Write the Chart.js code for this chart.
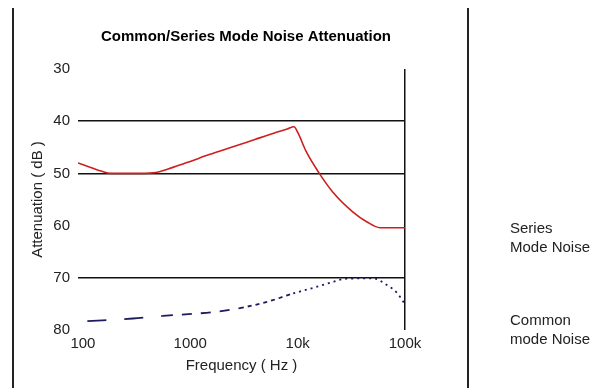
<!DOCTYPE html>
<html>
<head>
<meta charset="utf-8">
<script src="https://cdn.jsdelivr.net/npm/chart.js@4"></script>
<style>
  html, body { margin: 0; padding: 0; background: #fff; }
  #wrap { position: relative; width: 608px; height: 388px; overflow: hidden; }
  #c { position: absolute; left: 0; top: 0; }
  .frame { position: absolute; top: 8px; bottom: 0; width: 0; border-left: 2px solid #222; }
  .note { position: absolute; left: 510px; font: 15px "Liberation Sans", Arial, sans-serif; line-height: 19px; color: #222; }
</style>
</head>
<body>
<div id="wrap">
  <canvas id="c" width="608" height="388"></canvas>
  <div class="frame" style="left:12px"></div>
  <div class="frame" style="left:467px"></div>
  <div class="note" style="top:218px">Series<br>Mode Noise</div>
  <div class="note" style="top:310px">Common<br>mode Noise</div>
</div>
<script>
// ---- data ----
const seriesFreq = [90, 120, 150, 180, 300, 450, 700, 1000, 1500, 2500, 4000, 6000, 8000, 9250, 10100, 12000, 15800, 21300, 32800, 44300, 58600, 75000, 100000];
const seriesDb   = [48.0, 48.9, 49.6, 50.0, 50.0, 49.9, 48.8, 47.7, 46.4, 44.9, 43.5, 42.3, 41.5, 41.05, 42.3, 45.8, 49.9, 53.6, 57.4, 59.3, 60.4, 60.4, 60.4];

const commonFreq = [110, 292, 556, 1060, 1770, 2900, 5200, 9100, 15200, 21300, 27500, 50500, 68000, 84500, 98000];
const commonDb   = [78.3, 77.8, 77.3, 76.9, 76.5, 75.8, 74.6, 73.0, 71.7, 70.8, 70.2, 70.1, 71.4, 72.9, 74.8];

const xTickValues = [100, 1000, 10000, 100000];
const xTickLabels = ['100', '1000', '10k', '100k'];
const yTickValues = [30, 40, 50, 60, 70, 80];
const yGridShown  = [40, 50, 70];
const seriesNames = ['Series Mode Noise', 'Common mode Noise'];

Chart.defaults.font.family = '"Liberation Sans", Arial, sans-serif';
Chart.defaults.color = '#222';

function pts(fx, fy) { return fx.map((f, i) => ({ x: f, y: fy[i] })); }

function commonDash(ctx) {
  const f = ctx.p0.parsed.x;
  if (f < 450) return [19, 18];
  if (f < 2300) return [10, 9];
  if (f < 6000) return [4, 4];
  return [2, 4];
}

new Chart(document.getElementById('c'), {
  type: 'line',
  data: {
    datasets: [
      {
        label: seriesNames[0],
        data: pts(seriesFreq, seriesDb),
        borderColor: '#cc1f1f',
        borderWidth: 1.6,
        pointRadius: 0,
        cubicInterpolationMode: 'monotone',
        fill: false
      },
      {
        label: seriesNames[1],
        data: pts(commonFreq, commonDb),
        borderColor: '#1c1c5e',
        borderWidth: 1.8,
        pointRadius: 0,
        cubicInterpolationMode: 'monotone',
        fill: false,
        segment: { borderDash: commonDash }
      }
    ]
  },
  options: {
    responsive: false,
    animation: false,
    layout: { padding: { left: 0, right: 116, top: 0, bottom: 0 } },
    plugins: {
      legend: { display: false },
      tooltip: { enabled: false },
      title: {
        display: true,
        text: 'Common/Series Mode Noise Attenuation',
        color: '#000',
        font: { size: 15, weight: 'bold' },
        padding: { top: 28, bottom: 23 }
      }
    },
    scales: {
      x: {
        type: 'logarithmic',
        position: 'bottom',
        min: 90,
        max: 100000,
        afterBuildTicks: s => { s.ticks = xTickValues.map(v => ({ value: v })); },
        afterFit: s => { s.height = 58; },
        ticks: {
          autoSkip: false,
          maxRotation: 0,
          padding: 5,
          font: { size: 15 },
          callback: (v, i) => xTickLabels[i]
        },
        grid: {
          drawTicks: false,
          lineWidth: 1.5,
          color: c => (c.tick && c.tick.value === 100000) ? '#111' : 'rgba(0,0,0,0)'
        },
        border: { display: false },
        title: {
          display: true,
          text: 'Frequency ( Hz )',
          font: { size: 15 },
          color: '#222',
          padding: { top: 4, bottom: 13 }
        }
      },
      y: {
        type: 'linear',
        position: 'left',
        reverse: true,
        min: 30,
        max: 80,
        afterBuildTicks: s => { s.ticks = yTickValues.map(v => ({ value: v })); },
        afterFit: s => { s.width = 78; },
        ticks: { padding: 8, font: { size: 15 } },
        grid: {
          drawTicks: false,
          lineWidth: 1.5,
          color: c => (c.tick && yGridShown.includes(c.tick.value)) ? '#111' : 'rgba(0,0,0,0)'
        },
        border: { display: false },
        title: {
          display: true,
          text: 'Attenuation ( dB )',
          font: { size: 15 },
          color: '#222',
          padding: { top: 28.5, bottom: 0 }
        }
      },
      yRight: {
        type: 'linear',
        position: 'right',
        min: 0,
        max: 1,
        afterFit: s => { s.width = 87; },
        ticks: { display: false },
        grid: { display: false },
        border: { display: false }
      }
    }
  }
});
</script>
</body>
</html>
